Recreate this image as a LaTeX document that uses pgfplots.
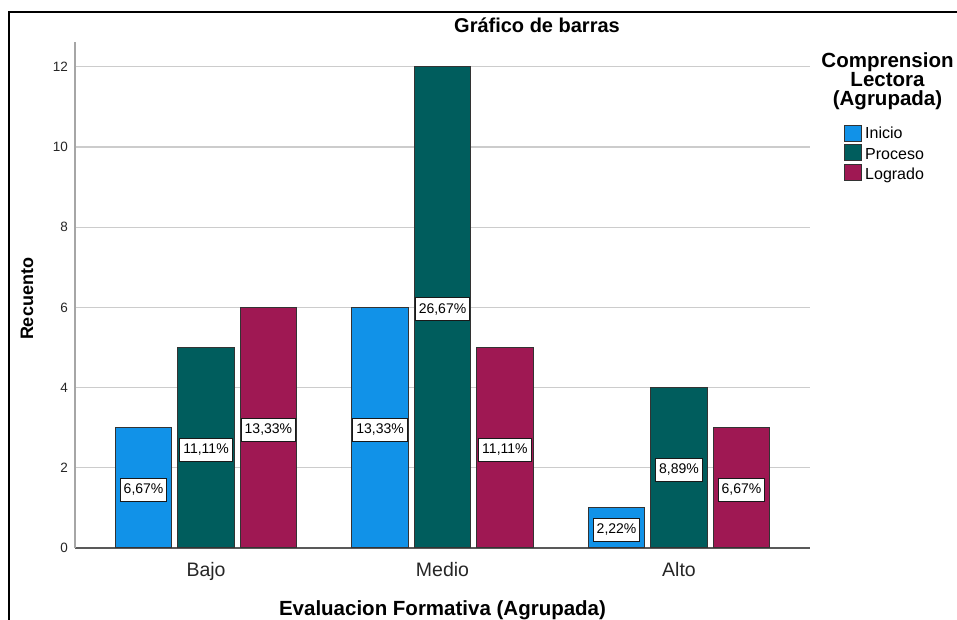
\documentclass[border=0pt]{standalone}
\usepackage{fontspec}
\setmainfont{Liberation Sans}
\usepackage{pgfplots}
\pgfplotsset{compat=1.18}
\definecolor{cInicio}{HTML}{1192E8}
\definecolor{cProceso}{HTML}{005D5D}
\definecolor{cLogrado}{HTML}{9F1853}
\newcommand{\fs}[1]{\fontsize{#1}{#1}\selectfont}
\begin{document}
\begin{tikzpicture}[x=1pt,y=1pt]
\useasboundingbox (0,0) rectangle (957,620);
\draw[line width=2pt] (9,-2) -- (9,608) -- (960,608);
\begin{axis}[
  at={(75pt,72pt)}, anchor=south west,
  scale only axis, width=735pt, height=506pt,
  xmin=-0.554, xmax=2.554, ymin=0, ymax=12.62,
  axis x line*=bottom, axis y line*=left,
  x axis line style={-, draw=black!65, line width=1.3pt},
  y axis line style={-, draw=black!35, line width=1.3pt},
  xtick={0,1,2}, xticklabels={Bajo,Medio,Alto},
  ytick={0,2,...,12},
  major tick length=0pt,
  ymajorgrids, grid style={draw=black!20, line width=1.3pt},
  xticklabel style={font=\fs{19.5}, text=black!85, anchor=north, inner sep=0pt, yshift=-14pt},
  yticklabel style={font=\fs{13.5}, text=black!85, anchor=east, inner sep=0pt, xshift=-7pt},
  /pgf/number format/assume math mode=true,
  clip=false,
]
\addplot[ybar, bar width=0.239, bar shift=-0.264, fill=cInicio, draw=black!80, line width=1pt] coordinates {(0,3) (1,6) (2,1)};
\addplot[ybar, bar width=0.239, bar shift=0, fill=cProceso, draw=black!80, line width=1pt] coordinates {(0,5) (1,12) (2,4)};
\addplot[ybar, bar width=0.239, bar shift=0.264, fill=cLogrado, draw=black!80, line width=1pt] coordinates {(0,6) (1,5) (2,3)};
\pgfplotsset{lblstyle/.style={draw=none, mark=none, forget plot, nodes near coords, point meta=explicit symbolic,
  nodes near coords style={anchor=center, yshift=-2pt, fill=white, draw=black!90, line width=1.1pt, font=\fs{14}, text=black,
  inner xsep=3.5pt, inner ysep=0pt, text height=10pt, text depth=2.5pt, minimum height=23pt}}}
\addplot[lblstyle] table[x expr=\thisrow{x}-0.264, y expr=\thisrow{y}/2, meta=lab] {
x y lab
0 3 6,67\%
1 6 13,33\%
2 1 2,22\%
};
\addplot[lblstyle] table[x expr=\thisrow{x}, y expr=\thisrow{y}/2, meta=lab] {
x y lab
0 5 11,11\%
1 12 26,67\%
2 4 8,89\%
};
\addplot[lblstyle] table[x expr=\thisrow{x}+0.264, y expr=\thisrow{y}/2, meta=lab] {
x y lab
0 6 13,33\%
1 5 11,11\%
2 3 6,67\%
};
\end{axis}
% title and axis labels
\node[anchor=base, font=\bfseries\fs{20}] at (537,587.5) {Gráfico de barras};
\node[anchor=base, font=\bfseries\fs{20.5}] at (442.5,4) {Evaluacion Formativa (Agrupada)};
\node[anchor=base, rotate=90, font=\bfseries\fs{18}] at (33,321) {Recuento};
% legend
\node[anchor=base, font=\bfseries\fs{20.5}] at (887.5,552) {Comprension};
\node[anchor=base, font=\bfseries\fs{20.5}] at (887.5,533) {Lectora};
\node[anchor=base, font=\bfseries\fs{20.5}] at (887.5,514) {(Agrupada)};
\draw[fill=cInicio, draw=black!80, line width=1pt] (844,478) rectangle (861,494);
\draw[fill=cProceso, draw=black!80, line width=1pt] (844,459) rectangle (861,475);
\draw[fill=cLogrado, draw=black!80, line width=1pt] (844,439) rectangle (861,455);
\node[anchor=base west, inner sep=0pt, font=\fs{16}] at (865,481) {Inicio};
\node[anchor=base west, inner sep=0pt, font=\fs{16}] at (865,460) {Proceso};
\node[anchor=base west, inner sep=0pt, font=\fs{16}] at (865,440) {Logrado};
\end{tikzpicture}
\end{document}
